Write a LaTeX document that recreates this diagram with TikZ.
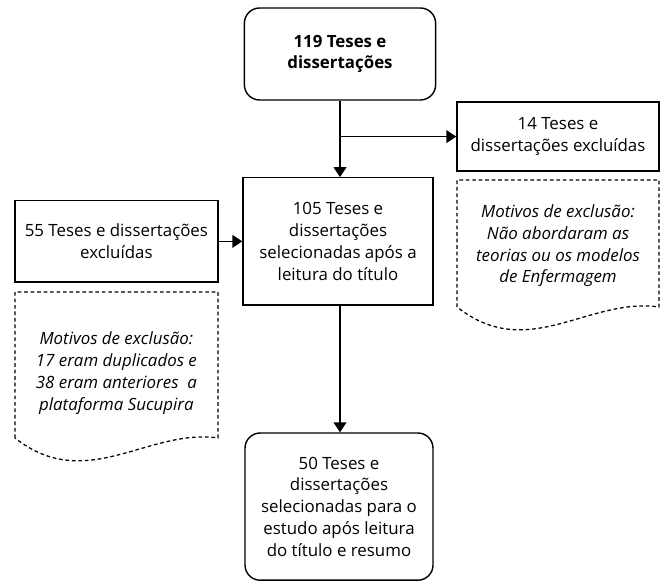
\documentclass[tikz,border=0pt]{standalone}
\usepackage{fontspec}
\setmainfont{Open Sans}
\usetikzlibrary{arrows.meta}
\tikzset{
	caixa/.style={draw, line width=1pt, align=center, inner sep=2pt, font=\fontsize{12}{15.5}\selectfont},
	arred/.style={caixa, rounded corners=0.38cm},
	nota/.style={align=center, font=\fontsize{12}{15.5}\selectfont\itshape},
	seta/.style={line width=1pt, -{Triangle[width=9pt,length=7pt]}},
	tracejado/.style={line width=0.9pt, dash pattern=on 2.6pt off 2pt}
}

\begin{document}
\begin{tikzpicture}
			%%%%% START %%%%%
			\useasboundingbox (0, 0) rectangle (16.55, 14.525);
			
			\node[arred, minimum width=4.78cm, minimum height=2.3cm, font=\fontsize{12}{15.5}\selectfont\bfseries] (inicio) at (8.5, 13.175) {119 Teses e\\dissertações};
			
			\node[caixa, minimum width=5.05cm, minimum height=1.73cm] (excl14) at (13.95, 11.11) {14 Teses e\\dissertações excluídas};
			
			\node[caixa, minimum width=4.75cm, minimum height=3.18cm] (sel105) at (8.45, 8.49) {105 Teses e\\dissertações\\selecionadas após a\\leitura do título};
			
			\node[caixa, minimum width=5.08cm, minimum height=2.03cm] (excl55) at (2.91, 8.49) {55 Teses e dissertações\\excluídas};
			
			\node[arred, minimum width=4.7cm, minimum height=3.68cm] (final) at (8.475, 1.86) {50 Teses e\\dissertações\\selecionadas para o\\estudo após leitura\\do título e resumo};
			
			% notas tracejadas
			\draw[tracejado] (11.425, 6.85) -- (11.425, 10.025) -- (16.475, 10.025) -- (16.475, 6.85)
				.. controls (14.7, 7.1) and (13.2, 5.45) .. (11.425, 6.85);
			\node[nota] (motivo14) at (13.95, 8.38) {Motivos de exclusão:\\Não abordaram as\\teorias ou os modelos\\de Enfermagem};
			
			\draw[tracejado] (0.375, 3.575) -- (0.375, 7.225) -- (5.45, 7.225) -- (5.45, 3.575)
				.. controls (3.7, 3.825) and (2.15, 2.175) .. (0.375, 3.575);
			\node[nota] (motivo55) at (2.91, 5.2) {Motivos de exclusão:\\17 eram duplicados e\\38 eram anteriores\ \ a\\plataforma Sucupira};
			
			% setas
			\coordinate (desvio) at (inicio.south |- excl14.west);
			\draw[seta] (inicio.south) -- (sel105.north -| inicio.south);
			\draw[seta] (desvio) -- (excl14.west);
			\draw[seta] (excl55.east) -- (sel105.west);
			\draw[seta] (sel105.south -| inicio.south) -- (final.north -| inicio.south);
			%%%%% END %%%%%
		\end{tikzpicture}
\end{document}
